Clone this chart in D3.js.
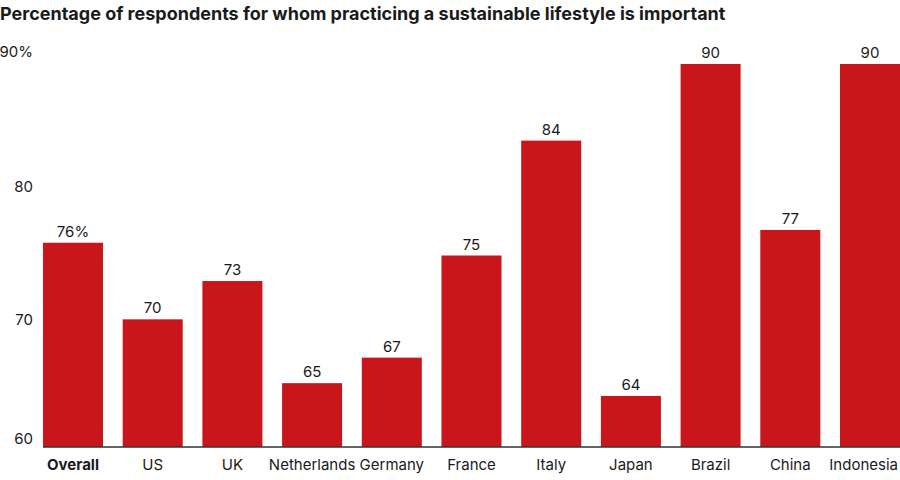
<!DOCTYPE html>
<html>
<head>
<meta charset="utf-8">
<script src="https://cdn.jsdelivr.net/npm/d3@7"></script>
<style>
  body { margin: 0; background: #fff; }
  svg text { font-family: Inter, "Noto Sans", sans-serif; fill: #1a1a1a; }
</style>
</head>
<body>
<svg class="root"></svg>
<script>
var countries = ["Overall", "US", "UK", "Netherlands", "Germany", "France", "Italy", "Japan", "Brazil", "China", "Indonesia"];
var values = [76, 70, 73, 65, 67, 75, 84, 64, 90, 77, 90];
var yTicks = [60, 70, 80, 90];

var width = 900, height = 480;

var svg = d3.select(".root")
    .attr("width", width)
    .attr("height", height);

var x = d3.scaleBand()
    .domain(countries)
    .range([43, 900])
    .paddingInner(0.247)
    .paddingOuter(0);

var y = d3.scaleLinear()
    .domain([60, 90])
    .range([447, 64]);

// hand-placed label nudges, like the original
var tickNudge = {60: -3, 70: 6, 80: 0, 90: -7};

svg.append("text")
    .attr("x", 0)
    .attr("y", 20)
    .style("font-size", "18px")
    .style("font-weight", "700")
    .text("Percentage of respondents for whom practicing a sustainable lifestyle is important");

svg.selectAll(".ytick")
    .data(yTicks)
  .enter().append("text")
    .attr("class", "ytick")
    .attr("x", 33)
    .attr("y", (d) => { return y(d) + tickNudge[d] })
    .attr("text-anchor", "end")
    .style("font-size", "15px")
    .text((d) => { return d === 90 ? d + "%" : d });

svg.selectAll(".bar")
    .data(values)
  .enter().append("rect")
    .attr("class", "bar")
    .attr("x", (d, i) => { return x(countries[i]) })
    .attr("y", (d) => { return y(d) })
    .attr("width", x.bandwidth())
    .attr("height", (d) => { return y(60) - y(d) })
    .attr("fill", "#c8161b");

svg.selectAll(".val")
    .data(values)
  .enter().append("text")
    .attr("class", "val")
    .attr("x", (d, i) => { return x(countries[i]) + x.bandwidth() / 2 })
    .attr("y", (d) => { return y(d) - 6 })
    .attr("text-anchor", "middle")
    .style("font-size", "15px")
    .text((d, i) => { return i === 0 ? d + "%" : d });

svg.append("line")
    .attr("x1", 43)
    .attr("x2", 900)
    .attr("y1", y(60))
    .attr("y2", y(60))
    .attr("stroke", "#333")
    .attr("stroke-width", 1.5);

var last = countries.length - 1;
svg.selectAll(".xlab")
    .data(countries)
  .enter().append("text")
    .attr("class", "xlab")
    .attr("x", (d, i) => { return i === last ? 898 : x(d) + x.bandwidth() / 2 })
    .attr("y", 470)
    .attr("text-anchor", (d, i) => { return i === last ? "end" : "middle" })
    .style("font-size", "15px")
    .style("font-weight", (d, i) => { return i === 0 ? "700" : "400" })
    .text((d) => { return d });
</script>
</body>
</html>
